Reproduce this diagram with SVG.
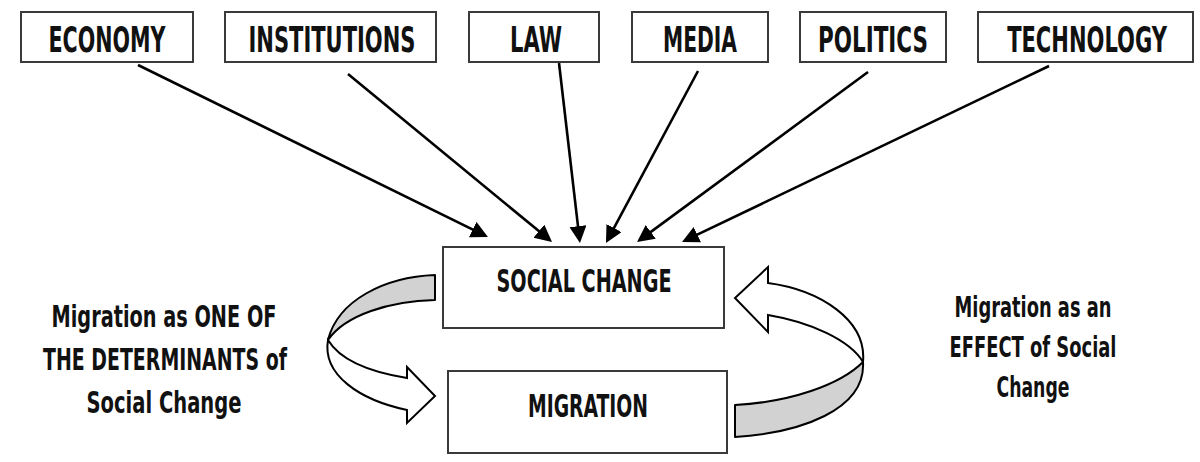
<svg xmlns="http://www.w3.org/2000/svg" width="1200" height="462" viewBox="0 0 1200 462">
<style>
.box{fill:#fff;stroke:#3a3a3a;stroke-width:2}
.lbl{font-family:"DejaVu Sans Condensed","Liberation Sans",sans-serif;font-weight:bold;fill:#111;text-anchor:middle}
.top{font-size:36px}
.mid{font-size:32px}
.side{font-size:30px}
.side2{font-size:28px}
.conn{stroke:#000;stroke-width:2.6;fill:none;marker-end:url(#ah)}
.band{fill:#d2d2d2;stroke:#000;stroke-width:2;stroke-linejoin:round}
.rib{fill:#fff;stroke:#000;stroke-width:2;stroke-linejoin:miter}
</style>
<defs>
<marker id="ah" markerUnits="userSpaceOnUse" markerWidth="20" markerHeight="20" refX="7" refY="8.5" orient="auto">
<path d="M0,0 L17,8.5 L0,17 Z" fill="#000"/>
</marker>
</defs>
<rect width="1200" height="462" fill="#fff"/>
<g id="connectors">
<line class="conn" x1="138" y1="65" x2="479" y2="232.6"/>
<line class="conn" x1="348" y1="74" x2="544.3" y2="235.6"/>
<line class="conn" x1="559" y1="63" x2="578.8" y2="233.1"/>
<line class="conn" x1="698" y1="71" x2="610.7" y2="234.2"/>
<line class="conn" x1="868" y1="72" x2="645.1" y2="236.1"/>
<line class="conn" x1="1049" y1="66" x2="691" y2="237.7"/>
</g>
<g id="economy"><rect class="box" x="21" y="12" width="172" height="50"/><text class="lbl top" x="107" y="52" textLength="117" lengthAdjust="spacingAndGlyphs">ECONOMY</text></g>
<g id="institutions"><rect class="box" x="225" y="12" width="211" height="50"/><text class="lbl top" x="332" y="52" textLength="167" lengthAdjust="spacingAndGlyphs">INSTITUTIONS</text></g>
<g id="law"><rect class="box" x="469" y="12" width="130" height="50"/><text class="lbl top" x="536" y="52" textLength="52" lengthAdjust="spacingAndGlyphs">LAW</text></g>
<g id="media"><rect class="box" x="632" y="12" width="136" height="50"/><text class="lbl top" x="700" y="52" textLength="74" lengthAdjust="spacingAndGlyphs">MEDIA</text></g>
<g id="politics"><rect class="box" x="800" y="12" width="146" height="50"/><text class="lbl top" x="873" y="52" textLength="110" lengthAdjust="spacingAndGlyphs">POLITICS</text></g>
<g id="technology"><rect class="box" x="978" y="12" width="215" height="50"/><text class="lbl top" transform="translate(1087,52) scale(0.75,1)" x="0" y="0" textLength="213" lengthAdjust="spacingAndGlyphs">TECHNOLOGY</text></g>
<g id="social-change"><rect class="box" x="443" y="247" width="281" height="81"/><text class="lbl mid" x="584" y="292" textLength="175" lengthAdjust="spacingAndGlyphs">SOCIAL CHANGE</text></g>
<g id="migration"><rect class="box" x="448" y="371" width="279" height="82"/><text class="lbl mid" x="588" y="417" textLength="120" lengthAdjust="spacingAndGlyphs">MIGRATION</text></g>
<g id="left-loop">
<path class="band" d="M435,275 C385,277 338,300 328,340 C345,315 390,301 435,300 Z"/>
<path class="rib" d="M328,340 C322,375 360,400 407,410 L407,423 L435,396 L407,367 L407,378 C370,372 340,360 328,340 Z"/>
</g>
<g id="right-loop">
<path class="band" d="M735,405 L735,437 C800,433 866,410 863,362 C840,385 790,402 735,405 Z"/>
<path class="rib" d="M863,362 C867,320 820,290 768,283 L768,267 L735,298 L768,332 L768,315 C810,322 850,340 863,362 Z"/>
</g>
<g id="left-text">
<text class="lbl side" x="164" y="327" textLength="225" lengthAdjust="spacingAndGlyphs">Migration as ONE OF</text>
<text class="lbl side" x="165" y="370" textLength="244" lengthAdjust="spacingAndGlyphs">THE DETERMINANTS of</text>
<text class="lbl side" x="164" y="413" textLength="155" lengthAdjust="spacingAndGlyphs">Social Change</text>
</g>
<g id="right-text">
<text class="lbl side2" x="1033" y="317" textLength="157" lengthAdjust="spacingAndGlyphs">Migration as an</text>
<text class="lbl side2" x="1033" y="357" textLength="167" lengthAdjust="spacingAndGlyphs">EFFECT of Social</text>
<text class="lbl side2" x="1033" y="397" textLength="73" lengthAdjust="spacingAndGlyphs">Change</text>
</g>
</svg>
